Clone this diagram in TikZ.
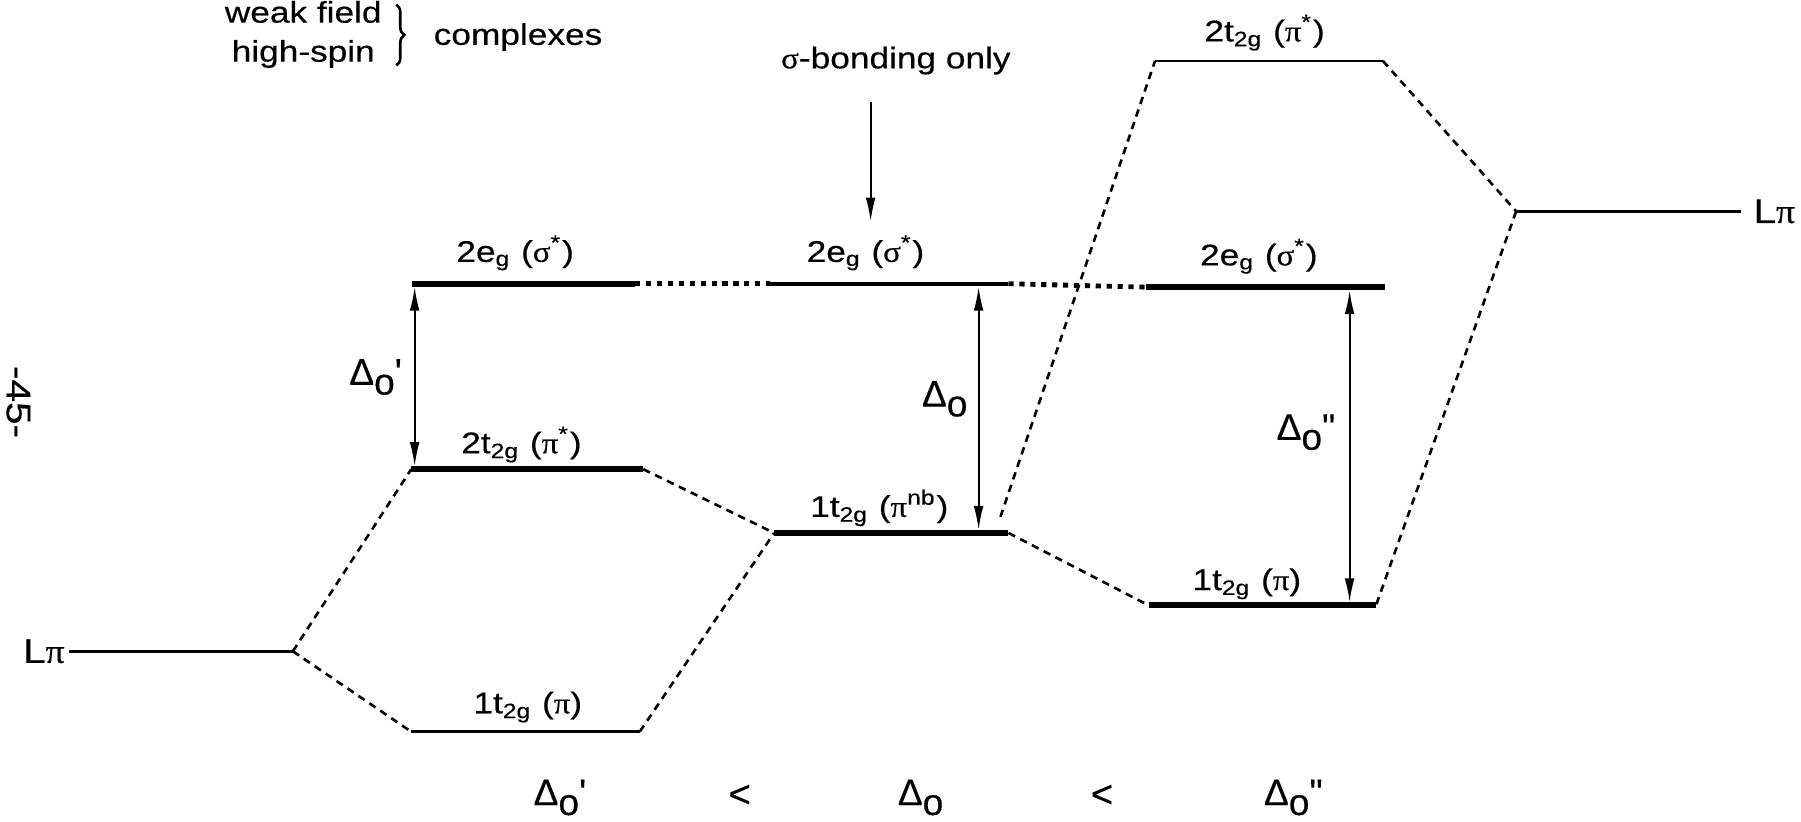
\documentclass[tikz,border=0pt]{standalone}
\usepackage{fontspec}
\setmainfont{Liberation Sans}[FakeStretch=1.18,FakeBold=0.4]
\newfontfamily\gkfont{Liberation Serif}[FakeStretch=1.1,FakeBold=0.4]
\newfontfamily\dfont{Liberation Sans}[FakeBold=0.4]
\usetikzlibrary{arrows.meta,decorations.pathreplacing}
\newcommand{\mysig}{{\gkfont σ}}
\newcommand{\mypi}{{\gkfont π}}
\newcommand{\myDo}{Δ\raisebox{-0.5ex}{o}}
\begin{document}
\begin{tikzpicture}[x=0.1mm,y=-0.1mm,
  font=\fontsize{7.4}{8.8}\selectfont,
  lvl/.style={line width=1.4pt},
  midlvl/.style={line width=1.0pt},
  thinlvl/.style={line width=0.65pt},
  conn/.style={line width=0.65pt, dash pattern=on 0.65mm off 0.5mm},
  dotconn/.style={line width=1.2pt, dash pattern=on 0.45mm off 0.5mm},
  gaparrow/.style={line width=0.5pt, {Latex[length=2.1mm,width=0.85mm]}-{Latex[length=2.1mm,width=0.85mm]}, shorten <=0.25mm, shorten >=0.25mm},
  downarrow/.style={line width=0.5pt, -{Latex[length=2.1mm,width=0.85mm]}},
  lab/.style={anchor=base, inner sep=0pt},
  dlab/.style={anchor=base, inner sep=0pt, font=\dfont\fontsize{9.2}{11}\selectfont},
  ltlab/.style={anchor=center, inner sep=0pt, font=\dfont\fontsize{9.5}{11}\selectfont}]
\useasboundingbox (0,0) rectangle (1568,715);

% level end points
\coordinate (LLa) at (60,567);
\coordinate (LL) at (255,567);
\coordinate (A2el) at (359,247);
\coordinate (A2er) at (553,247);
\coordinate (A2tl) at (358,408.5);
\coordinate (A2tr) at (560,408.5);
\coordinate (A1tl) at (358,637);
\coordinate (A1tr) at (557,637);
\coordinate (B2el) at (670,247);
\coordinate (B2er) at (878,247);
\coordinate (B1tl) at (674,464);
\coordinate (B1tr) at (878,464);
\coordinate (Bend) at (871,450);
\coordinate (C2el) at (998,250);
\coordinate (C2er) at (1206,250);
\coordinate (C1tl) at (1000,527);
\coordinate (C1tr) at (1198,527);
\coordinate (C2tl) at (1005.6,53);
\coordinate (C2tr) at (1204,53);
\coordinate (RL) at (1320,184);
\coordinate (RLb) at (1516,184);

% arrow end points
\coordinate (g1t) at (361,247);
\coordinate (g1b) at (361,408.5);
\coordinate (g2t) at (852,247);
\coordinate (g2b) at (852,464);
\coordinate (g3t) at (1175,250);
\coordinate (g3b) at (1175,527);
\coordinate (sgt) at (758,88.5);
\coordinate (sgb) at (758,193);
\coordinate (brt) at (345,4);
\coordinate (brb) at (345,57);

% levels
\draw[thinlvl] (LLa) -- (LL);
\draw[lvl] (A2el) -- (A2er);
\draw[lvl] (A2tl) -- (A2tr);
\draw[thinlvl] (A1tl) -- (A1tr);
\draw[midlvl] (B2el) -- (B2er);
\draw[lvl] (B1tl) -- (B1tr);
\draw[lvl] (C2el) -- (C2er);
\draw[lvl] (C1tl) -- (C1tr);
\draw[thinlvl] (C2tl) -- (C2tr);
\draw[thinlvl] (RL) -- (RLb);

% correlation lines
\draw[conn] (LL) -- (A2tl);
\draw[conn] (LL) -- (A1tl);
\draw[conn] (A2tr) -- (B1tl);
\draw[conn] (A1tr) -- (B1tl);
\draw[conn] (B1tr) -- (C1tl);
\draw[conn] (Bend) -- (C2tl);
\draw[conn] (C2tr) -- (RL);
\draw[conn] (RL) -- (C1tr);
\draw[dotconn] (A2er) -- (B2el);
\draw[dotconn] (B2er) -- (C2el);

% arrows
\draw[gaparrow] (g1t) -- (g1b);
\draw[gaparrow] (g2t) -- (g2b);
\draw[gaparrow] (g3t) -- (g3b);
\draw[downarrow] (sgt) -- (sgb);
\draw[line width=0.65pt, decorate, decoration={brace, amplitude=2pt}] (brt) -- (brb);

% labels
\node[lab] (wf) at (264,19.7) {weak field};
\node[lab] (hs) at (264,53.7) {high-spin};
\node[lab] (cx) at (451,39) {complexes};
\node[lab] (sb) at (780,59.5) {\mysig-bonding only};
\node[lab] (lA2e) at (448.5,228) {2e\textsubscript{g} (\mysig\textsuperscript{*})};
\node[lab] (lB2e) at (753.5,228) {2e\textsubscript{g} (\mysig\textsuperscript{*})};
\node[lab] (lC2e) at (1096,231) {2e\textsubscript{g} (\mysig\textsuperscript{*})};
\node[lab] (lA2t) at (454,394.6) {2t\textsubscript{2g} (\mypi\textsuperscript{*})};
\node[lab] (lB1t) at (765.5,450) {1t\textsubscript{2g} (\mypi\textsuperscript{nb})};
\node[lab] (lC1t) at (1085.5,513.7) {1t\textsubscript{2g} (\mypi)};
\node[lab] (lA1t) at (459.5,621) {1t\textsubscript{2g} (\mypi)};
\node[lab] (lC2t) at (1101,36) {2t\textsubscript{2g} (\mypi\textsuperscript{*})};
\node[anchor=east, inner sep=0pt, font=\fontsize{8.5}{10}\selectfont] (lLL) at (57,567) {L\mypi};
\node[anchor=west, inner sep=0pt, font=\fontsize{8.5}{10}\selectfont] (lRL) at (1526,184) {L\mypi};
\node[rotate=-90, inner sep=0pt, font=\fontsize{8.5}{10}\selectfont] (pg) at (16,350) {-45-};

\node[dlab] (d1) at (327,335) {\myDo\textquotesingle};
\node[dlab] (d2) at (822.5,354) {\myDo};
\node[dlab] (d3) at (1137,383) {\myDo\textquotedbl};

\node[dlab] (b1) at (487.5,701) {\myDo\textquotesingle};
\node[ltlab] (lt1) at (644,693) {<};
\node[dlab] (b2) at (801.5,701) {\myDo};
\node[ltlab] (lt2) at (959.5,693) {<};
\node[dlab] (b3) at (1126,701) {\myDo\textquotedbl};
\end{tikzpicture}
\end{document}
